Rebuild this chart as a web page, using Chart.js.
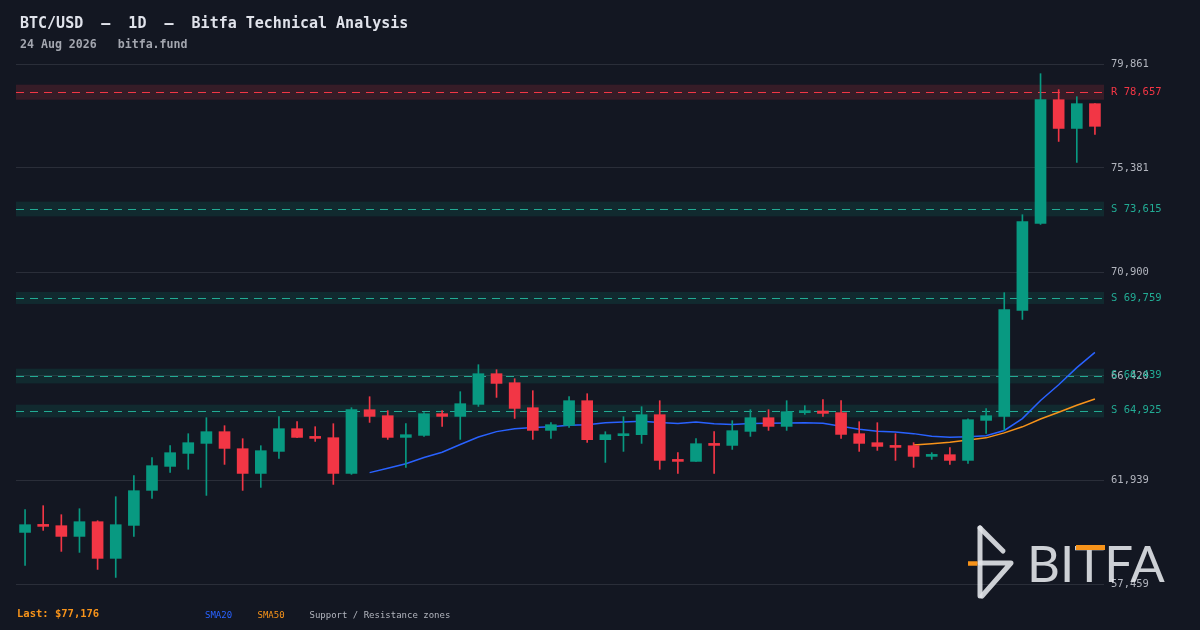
<!DOCTYPE html>
<html>
<head>
<meta charset="utf-8">
<script src="https://cdn.jsdelivr.net/npm/chart.js@4.4.1/dist/chart.umd.min.js"></script>
<style>
  html, body { margin: 0; padding: 0; background: #131722; }
  #wrap { position: relative; width: 1200px; height: 630px; background: #131722; overflow: hidden; }
  #chartBox { position: absolute; left: 0; top: 0; width: 1200px; height: 630px; }
  .txt { position: absolute; white-space: pre; line-height: 1; font-family: 'DejaVu Sans Mono', monospace; }
  #logo { position: absolute; left: 0; top: 0; }
</style>
</head>
<body>
<div id="wrap">
  <div id="chartBox"><canvas id="c"></canvas></div>
  <div class="txt" style="left:20px;top:16.3px;font-size:15px;font-weight:bold;color:#e0e3eb;">BTC/USD  –  1D  –  Bitfa Technical Analysis</div>
  <div class="txt" style="left:20px;top:39.2px;font-size:11.6px;font-weight:bold;color:#a3a6af;">24 Aug 2026   bitfa.fund</div>
  <div class="txt" style="left:17px;top:608.4px;font-size:10.5px;font-weight:bold;color:#f7931a;">Last: $77,176</div>
  <div class="txt" style="left:205px;top:611.4px;font-size:9px;color:#2962ff;">SMA20</div>
  <div class="txt" style="left:257.5px;top:611.4px;font-size:9px;color:#f7931a;">SMA50</div>
  <div class="txt" style="left:309.5px;top:611.4px;font-size:9px;color:#b2b5be;">Support / Resistance zones</div>
  <svg id="logo" width="1200" height="630">
    <g stroke="rgba(226,228,233,0.9)" stroke-width="5" stroke-linecap="round" stroke-linejoin="round" fill="none">
      <line x1="980" y1="528" x2="980" y2="596"/>
      <line x1="980" y1="528" x2="1003" y2="551"/>
      <polyline points="980,563 1011,563 982,596"/>
    </g>
    <line x1="968" y1="563.5" x2="977.5" y2="563.5" stroke="#f7931a" stroke-width="4.5"/>
  </svg>
  <div class="txt" style="left:1027px;top:536.8px;font-family:Lato, 'Open Sans', sans-serif;font-size:51px;color:rgba(226,228,233,0.9);">BITFA</div>
  <div style="position:absolute;left:1076px;top:545px;width:29px;height:5px;background:#f7931a;"></div>
</div>
<script>
// ---- Data ----
const categories = [
  'Jun 26','Jun 27','Jun 28','Jun 29','Jun 30',
  'Jul 1','Jul 2','Jul 3','Jul 4','Jul 5','Jul 6','Jul 7','Jul 8','Jul 9','Jul 10',
  'Jul 11','Jul 12','Jul 13','Jul 14','Jul 15','Jul 16','Jul 17','Jul 18','Jul 19','Jul 20',
  'Jul 21','Jul 22','Jul 23','Jul 24','Jul 25','Jul 26','Jul 27','Jul 28','Jul 29','Jul 30','Jul 31',
  'Aug 1','Aug 2','Aug 3','Aug 4','Aug 5','Aug 6','Aug 7','Aug 8','Aug 9','Aug 10',
  'Aug 11','Aug 12','Aug 13','Aug 14','Aug 15','Aug 16','Aug 17','Aug 18','Aug 19','Aug 20',
  'Aug 21','Aug 22','Aug 23','Aug 24'
];
const opens = [59682, 60014, 59971, 59510, 60143, 58563, 59984, 61492, 62526, 63086,
  63517, 64021, 63288, 62223, 63172, 64150, 63805, 63762, 62223, 64968,
  64710, 63775, 63861, 64796, 64680, 65197, 66519, 66131, 65054, 64077,
  64292, 65356, 63676, 63848, 63891, 64753, 62827, 62741, 63503, 63430,
  64034, 64624, 64249, 64839, 64912, 64839, 63934, 63547, 63417, 63417,
  62957, 63030, 62784, 64507, 64680, 69246, 72995, 78324, 77085, 78152];
const highs = [60660, 60833, 60445, 60703, 60186, 61220, 62125, 62900, 63417, 63934,
  64624, 64279, 63719, 63417, 64667, 64451, 64236, 64365, 65054, 65528,
  64925, 64365, 64839, 64925, 65744, 66907, 66691, 66304, 65787, 64408,
  65528, 65657, 64020, 64667, 65097, 65356, 63116, 63719, 64020, 64494,
  64968, 64968, 65356, 65141, 65399, 65356, 64451, 64408, 63934, 63547,
  63116, 63331, 64580, 65011, 70009, 73369, 79444, 78755, 78453, 78152];
const lows = [58261, 59769, 58864, 58821, 58088, 57742, 59510, 61147, 62267, 62401,
  61276, 62612, 61492, 61621, 62870, 63760, 63602, 61750, 62181, 64421,
  63689, 62483, 63818, 64249, 63689, 65110, 65498, 64593, 63689, 63732,
  64206, 63560, 62698, 63172, 63517, 62401, 62223, 62741, 62223, 63258,
  63818, 64077, 64077, 64766, 64680, 63732, 63172, 63215, 62784, 62483,
  62827, 62612, 62656, 63948, 64077, 68858, 72950, 76525, 75621, 76826];
const closes = [60014, 59941, 59510, 60143, 58563, 60014, 61479, 62556, 63116, 63547,
  64021, 63301, 62223, 63202, 64150, 63775, 63732, 62223, 64968, 64680,
  63775, 63891, 64796, 64680, 65227, 66519, 66101, 65024, 64077, 64322,
  65356, 63676, 63891, 63934, 64753, 62784, 62741, 63503, 63430, 64064,
  64624, 64249, 64882, 64925, 64809, 63904, 63517, 63387, 63344, 62957,
  63030, 62784, 64537, 64710, 69276, 73068, 78324, 77085, 78152, 77176];
// SMA20 values from candle 20 onward, SMA50 values from candle 50 onward
const sma20 = [62258, 62446, 62643, 62908, 63135, 63468, 63793, 64024, 64148, 64196,
  64234, 64301, 64320, 64403, 64440, 64470, 64420, 64371, 64435, 64358,
  64327, 64370, 64388, 64392, 64404, 64383, 64252, 64123, 64041, 64005,
  63937, 63820, 63776, 63808, 63847, 64073, 64587, 65366, 66045, 66781, 67437];
const sma50 = [63446, 63506, 63563, 63664, 63755, 63969, 64230, 64567, 64858, 65159, 65431];
const yTicks = [79861, 75381, 70900, 66420, 61939, 57459];
const levelTypes = ['R', 'S', 'S', 'S', 'S'];
const levelValues = [78657, 73615, 69759, 66439, 64925];
const zoneLow = [78323, 73296, 69522, 66101, 64636];
const zoneHigh = [78969, 73929, 70039, 66734, 65184];

// ---- Styles ----
const UP = '#089981';
const DOWN = '#f23645';
const SUP = '#22ab94';
const RES = '#f23645';
const fmt = v => Number(v).toLocaleString('en-US');

const nullsBefore = (n, arr) => Array(n).fill(null).concat(arr);
const sma20Data = nullsBefore(categories.length - sma20.length, sma20);
const sma50Data = nullsBefore(categories.length - sma50.length, sma50);
const bodyData = opens.map((o, i) => [o, closes[i]]);
const wickData = lows.map((l, i) => [l, highs[i]]);
const candleColor = ctx => closes[ctx.dataIndex] >= opens[ctx.dataIndex] ? UP : DOWN;

const levelsPlugin = {
  id: 'levels',
  beforeDatasetsDraw(chart) {
    const { ctx, chartArea: a, scales: { y } } = chart;
    ctx.save();
    levelValues.forEach((v, i) => {
      const isR = levelTypes[i] === 'R';
      const yTop = y.getPixelForValue(zoneHigh[i]);
      const yBot = y.getPixelForValue(zoneLow[i]);
      ctx.fillStyle = isR ? 'rgba(242,54,69,0.16)' : 'rgba(8,153,129,0.15)';
      ctx.fillRect(a.left, yTop, a.right - a.left, yBot - yTop);
      const py = Math.round(y.getPixelForValue(v)) + 0.5;
      ctx.strokeStyle = isR ? RES : SUP;
      ctx.lineWidth = 1;
      ctx.setLineDash([8, 6]);
      ctx.beginPath();
      ctx.moveTo(a.left, py);
      ctx.lineTo(a.right, py);
      ctx.stroke();
    });
    ctx.restore();
  },
  afterDraw(chart) {
    const { ctx, chartArea: a, scales: { y } } = chart;
    ctx.save();
    ctx.font = "10.5px 'DejaVu Sans Mono'";
    ctx.textAlign = 'left';
    ctx.textBaseline = 'middle';
    levelValues.forEach((v, i) => {
      const isR = levelTypes[i] === 'R';
      ctx.fillStyle = isR ? RES : SUP;
      ctx.fillText(levelTypes[i] + ' ' + fmt(v), a.right + 7, y.getPixelForValue(v));
    });
    ctx.restore();
  }
};

new Chart(document.getElementById('c'), {
  type: 'bar',
  data: {
    labels: categories,
    datasets: [
      { type: 'line', label: 'SMA20', data: sma20Data, borderColor: '#2962ff', borderWidth: 1.5,
        pointRadius: 0, tension: 0, order: 6 },
      { type: 'line', label: 'SMA50', data: sma50Data, borderColor: '#f7931a', borderWidth: 1.5,
        pointRadius: 0, tension: 0, order: 5 },
      { label: 'wick', data: wickData, backgroundColor: candleColor, borderWidth: 0,
        barThickness: 1, grouped: false, order: 3 },
      { label: 'body', data: bodyData, backgroundColor: candleColor, borderWidth: 0,
        barThickness: 11, grouped: false, minBarLength: 2, order: 2 }
    ]
  },
  options: {
    responsive: true,
    maintainAspectRatio: false,
    animation: false,
    events: [],
    layout: { padding: { left: 16, right: 0, top: 64, bottom: 46 } },
    plugins: { legend: { display: false }, tooltip: { enabled: false }, title: { display: false } },
    scales: {
      x: { display: false, offset: true, grid: { display: false } },
      y: {
        position: 'right',
        min: 57459,
        max: 79861,
        afterBuildTicks: s => { s.ticks = yTicks.map(v => ({ value: v })); },
        afterFit: s => { s.width = 96; },
        grid: { color: '#2a2e39', lineWidth: 1, drawTicks: false },
        border: { display: false },
        ticks: {
          color: '#b2b5be',
          padding: 7,
          font: { family: 'DejaVu Sans Mono', size: 10.5 },
          callback: v => fmt(v)
        }
      }
    }
  },
  plugins: [levelsPlugin]
});
</script>
</body>
</html>
